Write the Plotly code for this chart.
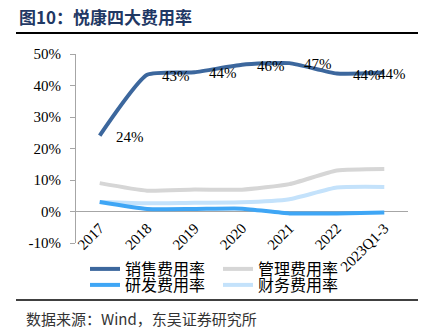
import plotly.graph_objects as go

categories = ["2017", "2018", "2019", "2020", "2021", "2022", "2023Q1-3"]
sales = [24.1, 43.4, 44.2, 46.6, 47.1, 43.8, 44.1]
admin = [9.0, 6.6, 7.0, 6.9, 8.7, 13.0, 13.5]
rnd = [3.0, 0.8, 0.8, 0.9, -0.6, -0.6, -0.3]
fin = [3.0, 2.6, 2.8, 2.9, 3.9, 7.6, 7.8]
sales_labels = ["24%", "43%", "44%", "46%", "47%", "44%", "44%"]
label_shift = [14, 13, 12, 13, 13, 14, -8]
y_ticks = [-10, 0, 10, 20, 30, 40, 50]
y_tick_labels = ["-10%", "0%", "10%", "20%", "30%", "40%", "50%"]

W, H = 430, 335
L, R, T, B = 76, 408, 54, 243

def px(x):
    return (x - L) / (R - L)

def py(y):
    return (B - y) / (B - T)

SERIF = "Liberation Serif, Times New Roman, serif"
CJK = "Noto Sans CJK SC"

fig = go.Figure()
series = [
    ("管理费用率", admin, "#d6d6d6", "legend"),
    ("财务费用率", fin, "#c4e2fb", "legend2"),
    ("研发费用率", rnd, "#3fa6f5", "legend2"),
    ("销售费用率", sales, "#3c679d", "legend"),
]
for name, vals, color, lg in series:
    fig.add_trace(go.Scatter(
        x=categories, y=vals, name=name, mode="lines",
        line=dict(color=color, width=4, shape="spline", smoothing=0.5),
        legend=lg, hoverinfo="skip",
    ))

for i, (v, t, s) in enumerate(zip(sales, sales_labels, label_shift)):
    fig.add_annotation(x=i, y=v, text=t, showarrow=False, xanchor="left",
                       yanchor="middle", xshift=s, yshift=-1,
                       font=dict(family=SERIF, size=15, color="#000"))

# title, rules, source
fig.add_annotation(xref="paper", yref="paper", x=px(17), y=py(17), text="<b>图10：悦康四大费用率</b>",
                   showarrow=False, xanchor="left", yanchor="middle",
                   font=dict(family=CJK, size=17, color="#1f3864"))
fig.add_shape(type="line", xref="paper", yref="paper", x0=px(16), x1=px(418), y0=py(33), y1=py(33),
              line=dict(color="#000", width=2))
fig.add_shape(type="line", xref="paper", yref="paper", x0=px(16), x1=px(418), y0=py(300), y1=py(300),
              line=dict(color="#000", width=1.5))
fig.add_annotation(xref="paper", yref="paper", x=px(24), y=py(318), text="数据来源：Wind，东吴证券研究所",
                   showarrow=False, xanchor="left", yanchor="middle",
                   font=dict(family=CJK, size=15, color="#333"))

fig.update_layout(
    width=W, height=H,
    margin=dict(l=L, r=W - R, t=T, b=H - B),
    paper_bgcolor="white", plot_bgcolor="white",
    showlegend=True,
    legend=dict(orientation="h", x=px(85), y=py(269), xanchor="left", yanchor="middle",
                entrywidth=88, font=dict(family=CJK, size=16, color="#000"),
                bgcolor="rgba(0,0,0,0)", traceorder="reversed"),
    legend2=dict(orientation="h", x=px(85), y=py(285), xanchor="left", yanchor="middle",
                 entrywidth=88, font=dict(family=CJK, size=16, color="#000"),
                 bgcolor="rgba(0,0,0,0)", traceorder="reversed"),
    xaxis=dict(type="category", range=[-0.5, 6.5], showline=False, showgrid=False, ticks="",
               anchor="free", position=py(211.7), ticklabelstandoff=4,
               tickangle=-45, tickfont=dict(family=SERIF, size=15, color="#000"), zeroline=False),
    yaxis=dict(range=[-10, 50], tickvals=y_ticks, ticktext=y_tick_labels, showgrid=False, showline=True,
               linecolor="#a6a6a6", linewidth=1, ticks="outside", ticklen=5, tickcolor="#a6a6a6",
               zeroline=True, zerolinecolor="#a6a6a6", zerolinewidth=1, ticklabelstandoff=6,
               tickfont=dict(family=SERIF, size=15, color="#000")),
)

fig.write_html("out.html")
